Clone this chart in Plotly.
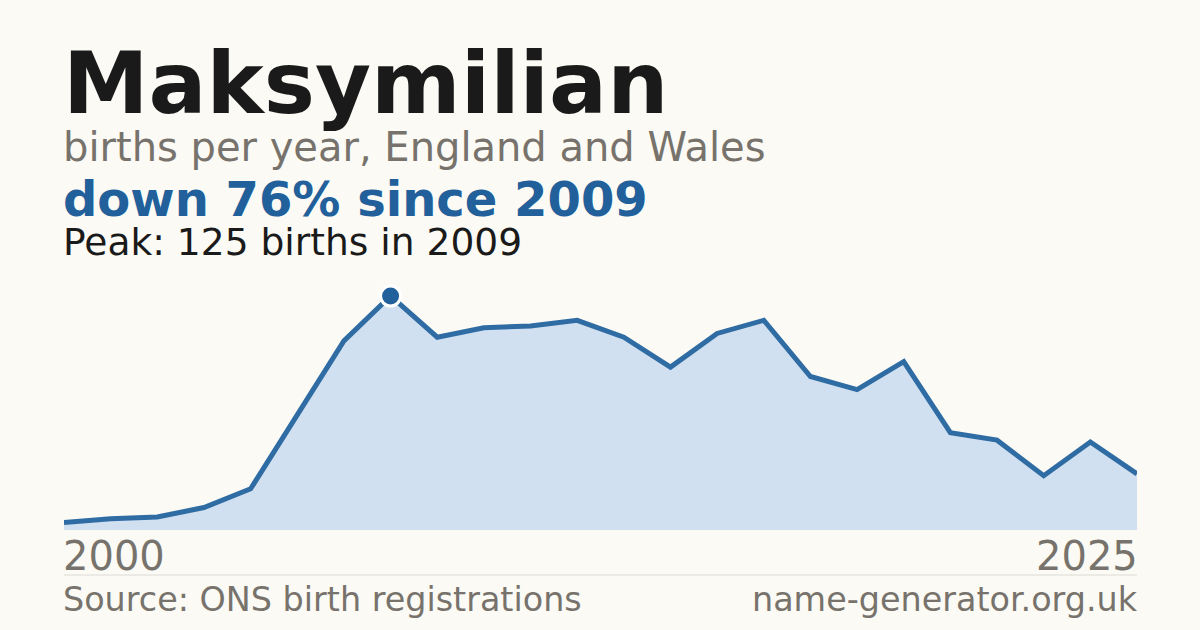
import plotly.graph_objects as go

years = list(range(2002, 2026))
births = [4, 6, 7, 12, 22, 62, 101, 125, 103, 108, 109, 112, 103, 87, 105, 112,
          82, 75, 90, 52, 48, 29, 47, 30]
peak_year = 2009
peak_value = 125
axis_labels = ["2000", "2025"]

title = "Maksymilian"
subtitle = "births per year, England and Wales"
headline = "down 76% since 2009"
peak_text = "Peak: 125 births in 2009"
source_text = "Source: ONS birth registrations"
site_text = "name-generator.org.uk"

BG = "#fbfaf5"
BLUE = "#21609a"
LINE = "#2f6ca3"
FILL = "#d0e0f0"
GREY = "#77736c"
DARK = "#1a1a1a"
FONT = "DejaVu Sans"

W, H = 1200, 630
L, R, T, B = 64, 63, 270, 100
PH = H - T - B


def py(pix):
    return (H - B - pix) / PH


fig = go.Figure()
fig.add_trace(go.Scatter(
    x=years, y=births, mode="lines",
    line=dict(color=LINE, width=5),
    fill="tozeroy", fillcolor=FILL,
    hoverinfo="skip",
))
fig.add_trace(go.Scatter(
    x=[peak_year], y=[peak_value], mode="markers",
    marker=dict(color=BLUE, size=20, line=dict(color="white", width=3)),
    hoverinfo="skip",
))

ann = []


def text(s, xp, ypix, size, color, bold=False, xanchor="left"):
    ann.append(dict(
        text=f"<b>{s}</b>" if bold else s,
        x=xp, y=py(ypix), xref="paper", yref="paper",
        xanchor=xanchor, yanchor="middle", showarrow=False,
        xshift=-3 if xanchor == "left" else 3,
        font=dict(family=FONT, size=size, color=color),
    ))


text(title, 0, 83, 86, DARK, bold=True)
text(subtitle, 0, 147, 40, GREY)
text(headline, 0, 199, 48, BLUE, bold=True)
text(peak_text, 0, 242, 37.6, DARK)
text(axis_labels[0], 0, 556, 40, GREY)
text(axis_labels[1], 1, 556, 40, GREY, xanchor="right")
text(source_text, 0, 599, 33.4, GREY)
text(site_text, 1, 599, 33.4, GREY, xanchor="right")

fig.update_layout(
    width=W, height=H, autosize=False,
    margin=dict(l=L, r=R, t=T, b=B),
    paper_bgcolor=BG, plot_bgcolor=BG,
    showlegend=False,
    annotations=ann,
    shapes=[dict(type="line", xref="paper", yref="paper", x0=0, x1=1,
                 y0=py(575), y1=py(575), line=dict(color="#dcdad3", width=1))],
    xaxis=dict(range=[years[0], years[-1]], visible=False, fixedrange=True),
    yaxis=dict(range=[0, PH / 1.872], visible=False, fixedrange=True),
)

fig.write_html(
    "out.html",
    config={"displayModeBar": False},
    post_script="document.body.style.margin='0';document.body.style.background='%s';" % BG,
)
